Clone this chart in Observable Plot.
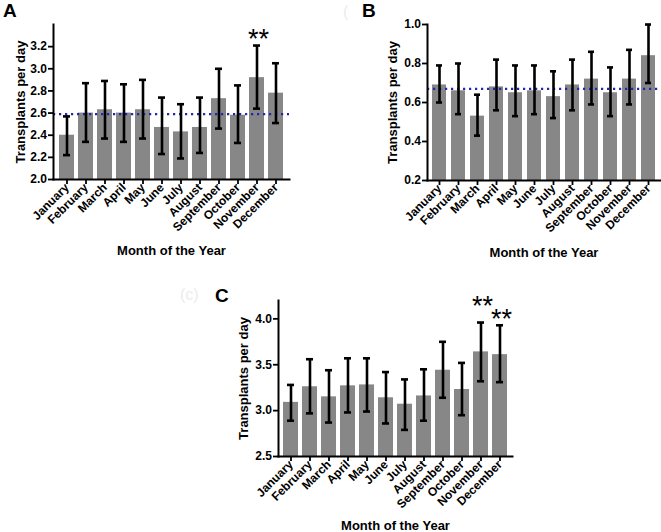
<!DOCTYPE html>
<html>
<head>
<meta charset="utf-8">
<script src="https://cdn.jsdelivr.net/npm/d3@7"></script>
<script src="https://cdn.jsdelivr.net/npm/@observablehq/plot@0.6"></script>
<style>
  body { margin: 0; background: #fff; }
  #wrap { position: relative; width: 661px; height: 532px; background: #fff; overflow: hidden;
          font-family: "Liberation Sans", Arial, sans-serif; }
  .panel { position: absolute; }
  .lbl { position: absolute; font-weight: bold; font-size: 19px; line-height: 19px; color: #000; }
  .ghost { position: absolute; font-size: 16px; line-height: 16px; color: #ececec; }
  g[aria-label="significance"] text { letter-spacing: 3px; }
</style>
</head>
<body>
<div id="wrap">
  <div class="panel" id="pA" style="left:0px;top:0px"></div>
  <div class="panel" id="pB" style="left:330px;top:0px"></div>
  <div class="panel" id="pC" style="left:180px;top:270px"></div>
  <div class="lbl" style="left:3px;top:1px">A</div>
  <div class="ghost" style="left:343px;top:4px">(</div>
  <div class="lbl" style="left:362px;top:1px">B</div>
  <div class="ghost" style="left:180px;top:287px">(c)</div>
  <div class="lbl" style="left:215px;top:286px">C</div>
</div>
<script>
const months = ["January","February","March","April","May","June","July","August","September","October","November","December"];

// Panel A
const valuesA = [2.40, 2.60, 2.63, 2.60, 2.63, 2.47, 2.43, 2.47, 2.73, 2.58, 2.92, 2.78];
const lowA    = [2.22, 2.34, 2.37, 2.34, 2.37, 2.23, 2.19, 2.24, 2.46, 2.33, 2.64, 2.51];
const highA   = [2.57, 2.87, 2.89, 2.86, 2.90, 2.74, 2.68, 2.74, 3.00, 2.85, 3.21, 3.05];
const sigA    = ["", "", "", "", "", "", "", "", "", "", "**", ""];
const meanA = 2.59;
const domainA = [2.0, 3.4];
const ticksA = [2.0, 2.2, 2.4, 2.6, 2.8, 3.0, 3.2];

// Panel B
const valuesB = [0.69, 0.66, 0.53, 0.68, 0.65, 0.66, 0.63, 0.69, 0.72, 0.65, 0.72, 0.84];
const lowB    = [0.60, 0.54, 0.43, 0.56, 0.53, 0.54, 0.52, 0.56, 0.59, 0.53, 0.59, 0.70];
const highB   = [0.79, 0.80, 0.64, 0.82, 0.79, 0.79, 0.76, 0.82, 0.86, 0.78, 0.87, 1.00];
const meanB = 0.67;
const domainB = [0.2, 1.0];
const ticksB = [0.2, 0.4, 0.6, 0.8, 1.0];

// Panel C
const valuesC = [3.09, 3.26, 3.15, 3.27, 3.28, 3.14, 3.07, 3.16, 3.44, 3.23, 3.64, 3.61];
const lowC    = [2.89, 2.97, 2.87, 2.98, 2.99, 2.86, 2.79, 2.89, 3.14, 2.95, 3.32, 3.31];
const highC   = [3.28, 3.56, 3.44, 3.57, 3.57, 3.42, 3.34, 3.45, 3.75, 3.52, 3.96, 3.93];
const sigC    = ["", "", "", "", "", "", "", "", "", "", "**", "**"];
const domainC = [2.5, 4.2];
const ticksC = [2.5, 3.0, 3.5, 4.0];

const yTitle = "Transplants per day";
const xTitle = "Month of the Year";

const barColor = "#878787";
const meanColor = "#2323b4";
const font = "'Liberation Sans', Arial, sans-serif";

function rows(values, low, high, sig) {
  return months.map((m, i) => ({month: m, value: values[i], low: low[i], high: high[i], sig: sig ? sig[i] : ""}));
}

function sigText(data, dy) {
  return Plot.text(data, {x: "month", y: "high", text: "sig", dy, dx: 1.5, fontSize: 27, fontWeight: "normal", lineAnchor: "top", fill: "#000", ariaLabel: "significance"});
}

function panel(opts) {
  const {data, domain, ticks, mean, width, height, margins, padInner, padOuter, titleDx, xTitleDy, sigMarks} = opts;
  const base = domain[0];
  const marks = [
    Plot.barY(data, {x: "month", y1: () => base, y2: "value", fill: barColor}),
  ];
  if (mean != null) {
    marks.push(Plot.ruleY([mean], {stroke: meanColor, strokeWidth: 2.2, strokeDasharray: "2.2,3.8"}));
  }
  marks.push(
    Plot.ruleX(data, {x: "month", y1: "low", y2: "high", stroke: "#000", strokeWidth: 2.6}),
    Plot.tickY(data, {x: "month", y: "low", stroke: "#000", strokeWidth: 2.6, insetLeft: 4, insetRight: 4}),
    Plot.tickY(data, {x: "month", y: "high", stroke: "#000", strokeWidth: 2.6, insetLeft: 4, insetRight: 4}),
    Plot.axisY({ticks, tickFormat: d3.format(".1f"), tickSize: 5, tickPadding: 1.5, strokeWidth: 1.8, label: null, fontSize: 12}),
    Plot.axisX({tickRotate: -45, tickSize: 5, tickPadding: 1, strokeWidth: 1.8, label: null, fontSize: 12}),
    Plot.frame({anchor: "left", stroke: "#000", strokeWidth: 2}),
    Plot.frame({anchor: "bottom", stroke: "#000", strokeWidth: 2}),
    Plot.text([yTitle], {frameAnchor: "left", rotate: -90, dx: titleDx, textAnchor: "middle", fontSize: 13, fontWeight: "bold", fill: "#000"}),
    Plot.text([xTitle], {frameAnchor: "bottom", dy: xTitleDy, textAnchor: "middle", fontSize: 13, fontWeight: "bold", fill: "#000", lineAnchor: "middle"}),
    ...sigMarks
  );
  return Plot.plot({
    width, height,
    marginTop: margins[0], marginRight: margins[1], marginBottom: margins[2], marginLeft: margins[3],
    style: {fontFamily: font, fontWeight: "bold", color: "#000", background: "transparent", overflow: "visible"},
    x: {domain: months, paddingInner: padInner, paddingOuter: padOuter, label: null},
    y: {domain, label: null},
    marks
  });
}

const dataA = rows(valuesA, lowA, highA, sigA);
const dataB = rows(valuesB, lowB, highB, null);
const dataC = rows(valuesC, lowC, highC, sigC);

document.getElementById("pA").append(panel({
  data: dataA, domain: domainA, ticks: ticksA, mean: meanA,
  width: 330, height: 265, margins: [24, 41, 86, 53], padInner: 0.22, padOuter: 0.18,
  titleDx: -33, xTitleDy: 71,
  sigMarks: [sigText(dataA.filter(d => d.sig), -17)]
}));

document.getElementById("pB").append(panel({
  data: dataB, domain: domainB, ticks: ticksB, mean: meanB,
  width: 331, height: 265, margins: [24, 1, 85, 97], padInner: 0.24, padOuter: 0.05,
  titleDx: -35, xTitleDy: 72,
  sigMarks: []
}));

document.getElementById("pC").append(panel({
  data: dataC, domain: domainC, ticks: ticksC, mean: null,
  width: 340, height: 262, margins: [30, 8, 76, 98], padInner: 0.23, padOuter: 0.155,
  titleDx: -35, xTitleDy: 69,
  sigMarks: [
    sigText(dataC.filter(d => d.sig && d.month === "November"), -27),
    sigText(dataC.filter(d => d.sig && d.month !== "November"), -16)
  ]
}));
</script>
</body>
</html>
